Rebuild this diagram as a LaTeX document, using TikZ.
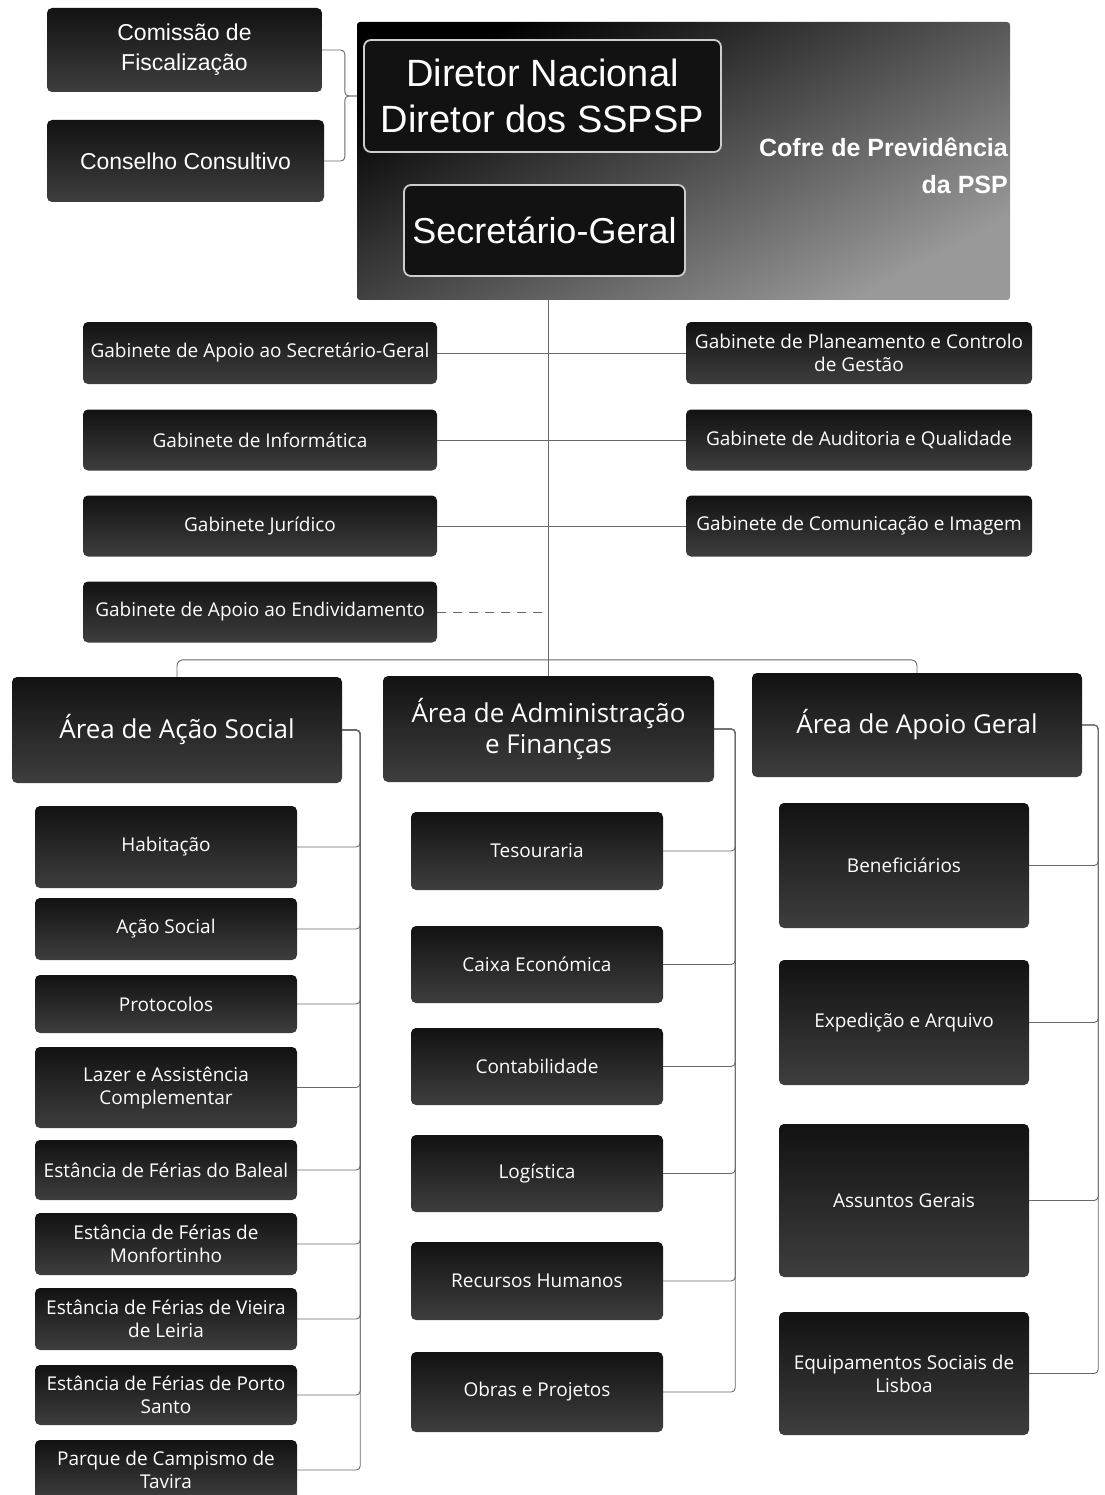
\documentclass[tikz,border=0pt]{standalone}
\usepackage{fontspec}
\setmainfont{Open Sans}
\newfontfamily\arialfont{Liberation Sans}
\definecolor{BoxDark}{RGB}{18, 18, 18}
\definecolor{BoxGrey}{RGB}{62, 62, 62}
\definecolor{LineGrey}{RGB}{105, 105, 105}
\definecolor{EdgeGrey}{RGB}{205, 205, 205}
\usetikzlibrary{positioning}

\begin{document}
\begin{tikzpicture}[
    x=1pt, y=-1pt,
    every node/.style={align=center, text=white, inner sep=2pt},
    box/.style={rounded corners=5pt, top color=BoxDark, bottom color=BoxGrey,
                font=\fontsize{19}{23}\selectfont},
    area/.style={box, font=\fontsize{26}{31}\selectfont},
    head/.style={rounded corners=7pt, fill=BoxDark, draw=EdgeGrey, line width=1.8pt,
                 font=\arialfont\fontsize{38}{46}\selectfont},
    side/.style={box, font=\arialfont\fontsize{23}{30}\selectfont},
    gabl/.style={box, minimum width=354pt, minimum height=61pt},
    gabr/.style={box, minimum width=346pt, minimum height=61pt},
    conn/.style={draw=LineGrey, line width=0.9pt, rounded corners=4pt}
]
\useasboundingbox (0,0) rectangle (1104,1495);

\node[minimum width=653pt, minimum height=278pt, rounded corners=3pt,
      top color=black, middle color=black!90, bottom color=black!40, shading angle=28] (cpbg) at (683.5,161) {};
\node[head, minimum width=357pt, minimum height=112pt] (dirnac) at (542.5,96) {Diretor Nacional\\Diretor dos SSPSP};
\node[head, minimum width=281pt, minimum height=91pt, font=\arialfont\fontsize{36}{44}\selectfont] (secger) at (544.5,230.5) {Secretário-Geral};
\node[anchor=east, align=right, font=\arialfont\bfseries\fontsize{25}{37}\selectfont] (cofre) at (1010,166) {Cofre de Previdência\\da PSP};

\node[side, minimum width=275pt, minimum height=84pt] (comfis) at (184.5,50) {Comissão de\\Fiscalização};
\node[side, minimum width=277pt, minimum height=82pt] (conscons) at (185.5,161) {Conselho Consultivo};

\node[gabl, minimum height=62pt] (gsec) at (260,353) {Gabinete de Apoio ao Secretário-Geral};
\node[gabl] (ginf) at (260,440) {Gabinete de Informática};
\node[gabl] (gjur) at (260,526) {Gabinete Jurídico};
\node[gabl] (gend) at (260,612) {Gabinete de Apoio ao Endividamento};
\node[gabr, minimum height=62pt] (gplan) at (859,353) {Gabinete de Planeamento e Controlo\\de Gestão};
\node[gabr] (gaud) at (859,440) {Gabinete de Auditoria e Qualidade};
\node[gabr] (gcom) at (859,526) {Gabinete de Comunicação e Imagem};

\node[area, minimum width=330pt, minimum height=106pt] (arsoc) at (177,730) {Área de Ação Social};
\node[area, minimum width=331pt, minimum height=106pt] (aradm) at (548.5,729) {Área de Administração\\e Finanças};
\node[area, minimum width=330pt, minimum height=104pt] (arger) at (917,725) {Área de Apoio Geral};

\node[box, minimum width=262pt, minimum height=82pt] (hab) at (166,847) {Habitação};
\node[box, minimum width=262pt, minimum height=62pt] (acs) at (166,929) {Ação Social};
\node[box, minimum width=262pt, minimum height=58pt] (prot) at (166,1004) {Protocolos};
\node[box, minimum width=262pt, minimum height=81pt] (lazer) at (166,1087.5) {Lazer e Assistência\\Complementar};
\node[box, minimum width=262pt, minimum height=60pt] (baleal) at (166,1170) {Estância de Férias do Baleal};
\node[box, minimum width=262pt, minimum height=62pt] (monf) at (166,1244) {Estância de Férias de\\Monfortinho};
\node[box, minimum width=262pt, minimum height=62pt] (vieira) at (166,1319) {Estância de Férias de Vieira\\de Leiria};
\node[box, minimum width=262pt, minimum height=60pt] (porto) at (166,1395) {Estância de Férias de Porto\\Santo};
\node[box, minimum width=262pt, minimum height=60pt] (tavira) at (166,1470) {Parque de Campismo de\\Tavira};

\node[box, minimum width=252pt, minimum height=78pt] (tes) at (537,851) {Tesouraria};
\node[box, minimum width=252pt, minimum height=77pt] (caixa) at (537,964.5) {Caixa Económica};
\node[box, minimum width=252pt, minimum height=77pt] (cont) at (537,1066.5) {Contabilidade};
\node[box, minimum width=252pt, minimum height=77pt] (logi) at (537,1173.5) {Logística};
\node[box, minimum width=252pt, minimum height=78pt] (rh) at (537,1281) {Recursos Humanos};
\node[box, minimum width=252pt, minimum height=80pt] (obras) at (537,1392) {Obras e Projetos};

\node[box, minimum width=250pt, minimum height=125pt] (benef) at (904,865.5) {Beneficiários};
\node[box, minimum width=250pt, minimum height=125pt] (exped) at (904,1022.5) {Expedição e Arquivo};
\node[box, minimum width=250pt, minimum height=153pt] (assun) at (904,1200.5) {Assuntos Gerais};
\node[box, minimum width=250pt, minimum height=123pt] (equip) at (904,1373.5) {Equipamentos Sociais de\\Lisboa};

\draw[conn] (comfis.east) -| ([xshift=-12pt]cpbg.west |- dirnac.west) -- (cpbg.west |- dirnac.west);
\draw[conn] (conscons.east) -| ([xshift=-12pt]cpbg.west |- dirnac.west) -- (cpbg.west |- dirnac.west);

\draw[conn] (aradm.north |- cpbg.south) -- (aradm.north);
\draw[conn] (gsec) -- (gplan);
\draw[conn] (ginf) -- (gaud);
\draw[conn] (gjur) -- (gcom);
\draw[conn, dash pattern=on 9pt off 7pt] (gend.east) -- (gend.east -| aradm.north);
\draw[conn, rounded corners=6pt] (arsoc.north) -- ++(0,-17) -| (arger.north);

\foreach \c in {hab,acs,prot,lazer,baleal,monf,vieira,porto,tavira}
  \draw[conn] (arsoc.east) -- ++(18,0) |- (\c.east);
\foreach \c in {tes,caixa,cont,logi,rh,obras}
  \draw[conn] (aradm.east) -- ++(21,0) |- (\c.east);
\foreach \c in {benef,exped,assun,equip}
  \draw[conn] (arger.east) -- ++(16,0) |- (\c.east);
\end{tikzpicture}
\end{document}
